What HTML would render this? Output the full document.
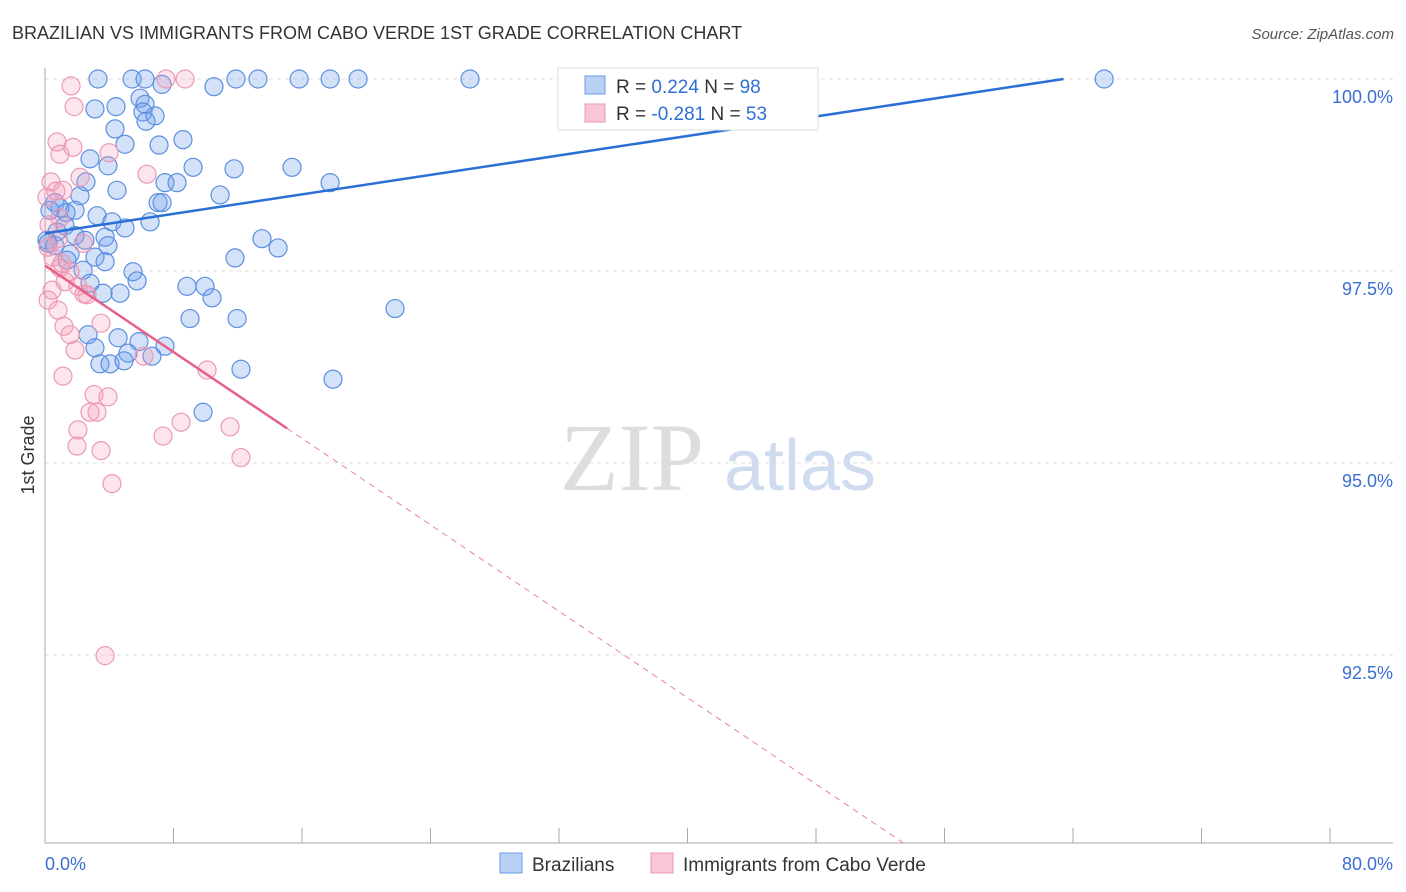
<!DOCTYPE html>
<html><head><meta charset="utf-8"><style>
body{margin:0;background:#fff;font-family:"Liberation Sans",sans-serif;}
svg{display:block}
</style></head><body>
<svg width="1406" height="892" viewBox="0 0 1406 892" xmlns="http://www.w3.org/2000/svg">
<text x="12" y="39" font-size="18" fill="#333">BRAZILIAN VS IMMIGRANTS FROM CABO VERDE 1ST GRADE CORRELATION CHART</text>
<text x="1394" y="39" font-size="15" fill="#555" text-anchor="end" font-style="italic">Source: ZipAtlas.com</text>
<g>
<text x="632" y="490" font-size="96" fill="#ddd" font-family="Liberation Serif,serif" text-anchor="middle">ZIP</text>
<text x="800" y="490" font-size="72" fill="#cfdcf0" text-anchor="middle">atlas</text>
</g>
<g id="grid"></g>
<g id="axes"></g>
<g id="pts"></g>
<g id="trend"></g>
<text transform="translate(34,455) rotate(-90)" font-size="18" fill="#333" text-anchor="middle">1st Grade</text>
<g>
<rect x="558" y="68" width="260" height="62" fill="#fff" stroke="#ddd"/>
<rect x="585" y="76" width="20" height="18" fill="#b9d0f5" stroke="#6b9be6"/>
<text x="616" y="93" font-size="19" fill="#333">R = <tspan fill="#2f6fd6">0.224</tspan>   N = <tspan fill="#2f6fd6">98</tspan></text>
<rect x="585" y="104" width="20" height="18" fill="#f9c6d6" stroke="#ec9ab5"/>
<text x="616" y="120" font-size="19" fill="#333">R = <tspan fill="#2f6fd6">-0.281</tspan>   N = <tspan fill="#2f6fd6">53</tspan></text>
</g>
<g>
<rect x="500" y="853" width="22" height="20" fill="#b9d0f5" stroke="#6b9be6"/>
<text x="532" y="871" font-size="19" fill="#333">Brazilians</text>
<rect x="651" y="853" width="22" height="20" fill="#f9c6d6" stroke="#ec9ab5"/>
<text x="683" y="871" font-size="19" fill="#333">Immigrants from Cabo Verde</text>
</g>
</svg>
<script>
const blueX=[3.30,5.42,6.23,7.29,11.89,13.26,15.82,17.75,19.49,26.46,65.94,10.52,5.92,3.11,4.42,6.23,6.10,6.85,6.29,4.36,8.59,4.98,7.10,2.80,3.92,9.22,11.77,15.38,2.55,7.47,8.22,17.75,4.48,10.90,2.18,7.04,7.29,0.62,0.93,0.31,1.31,1.87,3.24,6.54,4.17,4.98,1.25,0.75,1.87,2.49,3.74,13.51,0.12,0.62,3.92,14.51,1.56,3.11,1.37,3.74,11.83,5.48,2.37,5.73,2.80,8.84,9.96,4.67,3.61,10.40,21.79,9.03,11.96,2.68,4.55,5.85,3.11,7.47,5.17,6.66,3.42,4.05,4.92,12.20,17.93,9.84,0.19];
const blueY=[100,100,100,99.93,100,100,100,100,100,100,100,99.90,99.75,99.61,99.64,99.67,99.57,99.52,99.45,99.35,99.21,99.15,99.14,98.96,98.87,98.85,98.83,98.85,98.66,98.65,98.65,98.65,98.55,98.49,98.48,98.39,98.39,98.39,98.32,98.29,98.26,98.29,98.22,98.14,98.14,98.06,98.09,98.01,97.96,97.90,97.94,97.92,97.90,97.83,97.83,97.80,97.72,97.68,97.64,97.62,97.67,97.49,97.51,97.37,97.34,97.30,97.30,97.21,97.21,97.15,97.01,96.88,96.88,96.67,96.63,96.58,96.50,96.52,96.43,96.39,96.29,96.29,96.33,96.22,96.09,95.66,97.86];
const pinkX=[1.62,1.81,0.75,0.93,1.74,3.99,6.35,0.37,0.68,2.18,1.12,0.12,0.81,0.19,0.50,1.06,1.56,2.05,2.43,0.19,0.81,1.18,1.56,3.49,1.87,6.16,1.12,3.05,3.92,3.24,2.05,2.80,7.35,8.47,11.52,1.99,3.49,12.20,4.17,3.74,7.53,8.72,0.93,0.25,2.37,0.93,1.25,0.44,2.62,10.09];
const pinkY=[99.91,99.64,99.18,99.02,99.11,99.04,98.76,98.66,98.54,98.72,98.55,98.46,97.92,97.81,97.68,97.60,97.49,97.30,97.20,97.12,96.99,96.78,96.67,96.82,96.47,96.39,96.13,95.89,95.86,95.66,95.43,95.66,95.35,95.53,95.47,95.22,95.16,95.07,94.73,92.49,100,100,98.19,98.10,97.86,97.54,97.36,97.25,97.19,96.21];
const yTicks=[100,97.5,95,92.5];
const yTickLabels=["100.0%","97.5%","95.0%","92.5%"];
const xTicks=[0,8,16,24,32,40,48,56,64,72,80];
const blueTrend=[97.99,0.0317];
const pinkTrend=[97.57,-0.1407,15.07];
const X0=45,X1=1330,XMIN=0,XMAX=80,YT=79,YMAX=100,YMIN=90.05,YB=843;
const sx=v=>X0+(v-XMIN)/(XMAX-XMIN)*(X1-X0);
const sy=v=>YT+(YMAX-v)/(YMAX-YMIN)*(YB-YT);
const NS="http://www.w3.org/2000/svg";
function mk(t,a,p){const e=document.createElementNS(NS,t);for(const k in a)e.setAttribute(k,a[k]);p.appendChild(e);return e;}
const grid=document.getElementById('grid'),axes=document.getElementById('axes'),pts=document.getElementById('pts'),tr=document.getElementById('trend');
yTicks.forEach((t,i)=>{
 const l=mk('line',{x1:X0,x2:1393,y1:sy(t),y2:sy(t),stroke:'#ddd','stroke-dasharray':'4,4'},grid);
 
 
 const tx=mk('text',{x:1393,y:sy(t)+24,'font-size':18,fill:'#3b6fd4','text-anchor':'end'},grid);
 tx.textContent=yTickLabels[i];
 
 
});
let a=mk('line',{x1:X0,x2:X0,y1:68,y2:YB,stroke:'#aaa'},axes);


a=mk('line',{x1:X0,x2:1393,y1:YB,y2:YB,stroke:'#aaa'},axes);


xTicks.forEach(t=>{
 const l=mk('line',{x1:sx(t),x2:sx(t),y1:828,y2:YB,stroke:'#aaa'},axes);
 
 
});
let t0=mk('text',{x:45,y:870,'font-size':18,fill:'#3b6fd4'},axes);t0.textContent=XMIN.toFixed(1)+'%';


let t1=mk('text',{x:1393,y:870,'font-size':18,fill:'#3b6fd4','text-anchor':'end'},axes);t1.textContent=XMAX.toFixed(1)+'%';


blueX.forEach((x,i)=>{
 const c=mk('circle',{cx:sx(x),cy:sy(blueY[i]),r:9,fill:'rgba(110,160,235,0.3)',stroke:'#5b8fe0','stroke-width':1.2},pts);
 
 
});
pinkX.forEach((x,i)=>{
 const c=mk('circle',{cx:sx(x),cy:sy(pinkY[i]),r:9,fill:'rgba(245,150,180,0.25)',stroke:'#ec9ab5','stroke-width':1.2},pts);
 
 
});
const bxEnd=(YMAX-blueTrend[0])/blueTrend[1];
let l=mk('line',{x1:sx(0),y1:sy(blueTrend[0]),x2:sx(bxEnd),y2:sy(YMAX),stroke:'#2a6fd6','stroke-width':2.5},tr);


const pe=pinkTrend[2],pyE=pinkTrend[0]+pinkTrend[1]*pe;
l=mk('line',{x1:sx(0),y1:sy(pinkTrend[0]),x2:sx(pe),y2:sy(pyE),stroke:'#e8608a','stroke-width':2.5},tr);


const pxD=(YMIN-pinkTrend[0])/pinkTrend[1];
l=mk('line',{x1:sx(pe),y1:sy(pyE),x2:sx(pxD),y2:sy(YMIN),stroke:'#e8809f','stroke-width':1,'stroke-dasharray':'6,5'},tr);


</script>
</body></html>
